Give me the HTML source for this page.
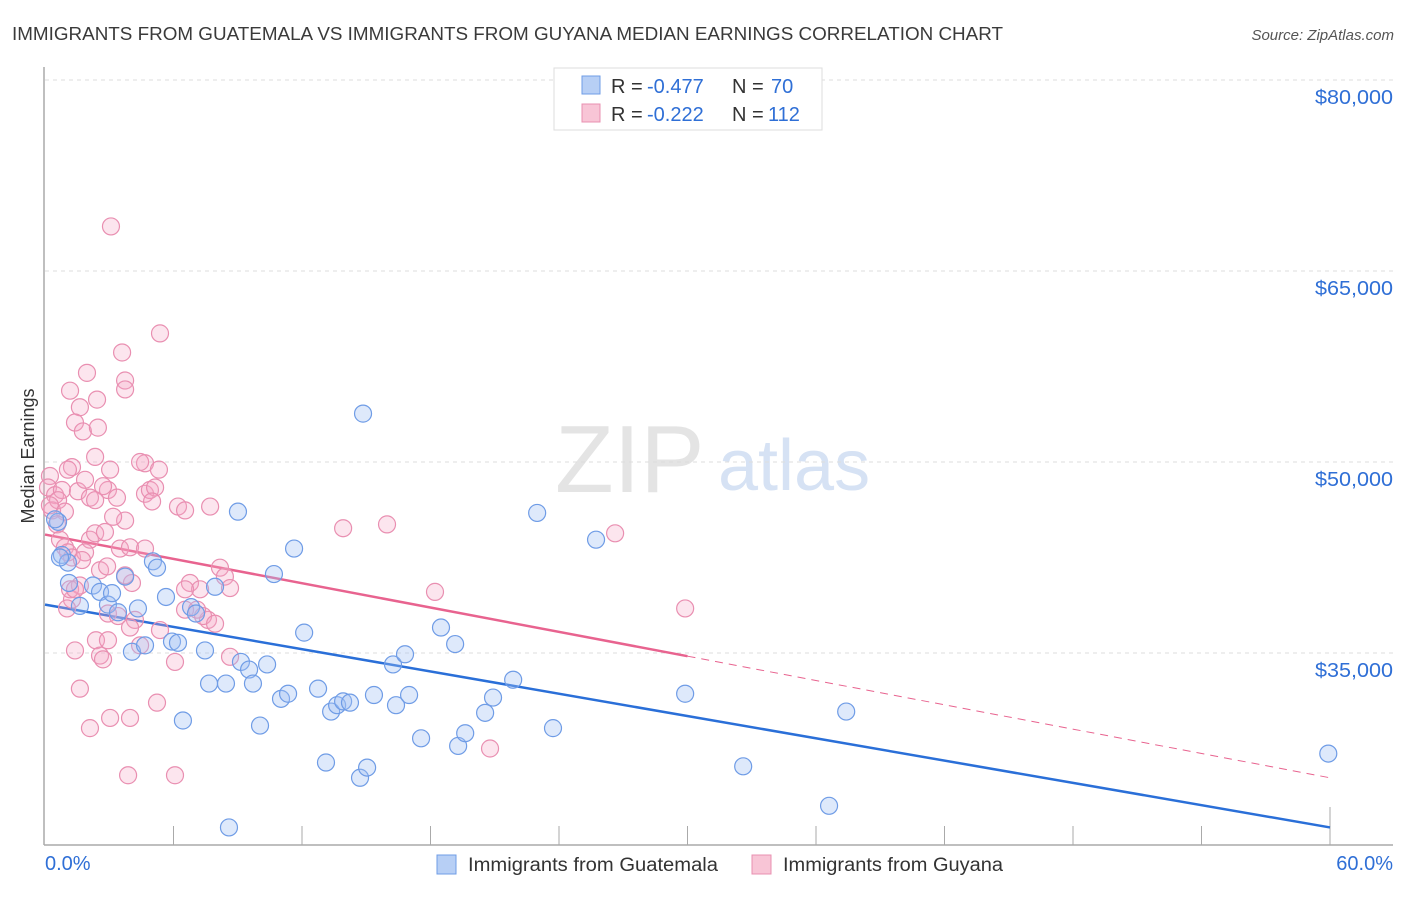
<!DOCTYPE html>
<html><head><meta charset="utf-8"><style>
body{margin:0;background:#fff;font-family:"Liberation Sans",sans-serif}
svg text{font-family:"Liberation Sans",sans-serif}
</style></head><body>
<svg id="c" width="1406" height="892" xmlns="http://www.w3.org/2000/svg">
<text x="12" y="40" font-size="18" textLength="991" lengthAdjust="spacingAndGlyphs" fill="#3a3a3a">IMMIGRANTS FROM GUATEMALA VS IMMIGRANTS FROM GUYANA MEDIAN EARNINGS CORRELATION CHART</text>
<text x="1394" y="40" font-size="15" fill="#555" text-anchor="end" font-style="italic">Source: ZipAtlas.com</text>
<text x="555" y="492" font-size="96" fill="#e4e4e4" font-family="Liberation Serif">ZIP</text>
<text x="718" y="490" font-size="72" fill="#d6e2f4">atlas</text>
<text transform="translate(34,456) rotate(-90)" font-size="18" fill="#333" text-anchor="middle">Median Earnings</text>
<g id="grid"></g><g id="axes"></g><g id="trend"></g><g id="pts"></g>
<g>
<rect x="554" y="68" width="268" height="62" fill="#fff" stroke="#ddd"/>
<rect x="582" y="76" width="18" height="18" fill="#b7cff5" stroke="#6f9ce6"/>
<rect x="582" y="104" width="18" height="18" fill="#f8c5d6" stroke="#e890b0"/>
<text x="611" y="93" font-size="20" fill="#333">R = <tspan x="647" fill="#2f6fd6">-0.477</tspan><tspan x="732">N = </tspan><tspan x="771" fill="#2f6fd6">70</tspan></text>
<text x="611" y="121" font-size="20" fill="#333">R = <tspan x="647" fill="#2f6fd6">-0.222</tspan><tspan x="732">N = </tspan><tspan x="768" fill="#2f6fd6">112</tspan></text>
</g>
<g>
<rect x="437" y="855" width="19" height="19" fill="#b7cff5" stroke="#6f9ce6"/>
<text x="468" y="871" font-size="19" textLength="250" lengthAdjust="spacingAndGlyphs" fill="#333">Immigrants from Guatemala</text>
<rect x="752" y="855" width="19" height="19" fill="#f8c5d6" stroke="#e890b0"/>
<text x="783" y="871" font-size="19" textLength="220" lengthAdjust="spacingAndGlyphs" fill="#333">Immigrants from Guyana</text>
</g>
</svg>
<script>
const yTicks=[35,50,65,80];
const yTickLabels=["$35,000","$50,000","$65,000","$80,000"];
const xTickLabels=["0.0%","60.0%"];
const blueX=[1.12,0.79,0.61,1.07,1.63,2.24,2.57,2.94,3.13,3.41,3.74,4.06,4.34,4.67,5.04,5.23,5.65,5.93,6.21,6.44,6.82,7.05,7.47,7.66,7.94,8.45,8.59,9.01,9.15,9.53,9.71,10.04,10.37,10.69,11.02,11.35,11.63,12.10,12.75,13.12,13.36,13.64,13.92,14.24,14.71,14.85,15.04,15.36,16.25,16.39,16.81,17.00,17.56,18.49,19.15,19.29,19.62,20.55,20.92,21.86,22.98,23.72,25.73,29.89,32.60,36.61,37.41,59.92,0.47,0.70];
const blueY=[40.5,42.7,45.3,42.1,38.7,40.3,39.8,38.8,39.7,38.2,41.0,35.1,38.5,35.6,42.2,41.7,39.4,35.9,35.8,29.7,38.6,38.1,35.2,32.6,40.2,32.6,21.3,46.1,34.3,33.7,32.6,29.3,34.1,41.2,31.4,31.8,43.2,36.6,32.2,26.4,30.4,30.9,31.2,31.1,25.2,53.8,26.0,31.7,34.1,30.9,34.9,31.7,28.3,37.0,35.7,27.7,28.7,30.3,31.5,32.9,46.0,29.1,43.9,31.8,26.1,23.0,30.4,27.1,45.5,42.5];
const pinkX=[3.08,5.37,3.60,3.74,3.74,1.17,1.96,2.43,1.63,1.40,1.77,2.47,4.67,5.32,2.34,1.26,0.23,0.14,0.47,0.79,0.33,0.61,0.93,1.54,1.87,2.10,2.94,3.36,2.71,4.67,4.90,5.14,5.00,6.21,7.71,6.54,3.74,3.18,0.56,0.70,0.93,1.07,1.26,2.10,1.87,1.73,2.34,2.57,3.50,3.97,4.67,4.06,2.90,3.74,1.26,1.63,1.17,1.03,1.40,2.94,3.41,4.20,3.97,4.44,5.37,6.54,6.77,7.24,7.61,8.17,8.40,8.64,7.38,7.94,2.38,2.94,2.57,2.71,1.40,6.07,8.64,1.63,5.23,3.04,3.97,2.10,3.88,6.07,13.92,15.97,18.21,20.78,26.62,29.89,4.44,1.07,3.04,0.23,2.34,2.80,6.54,7.10];
const pinkY=[68.5,60.1,58.6,56.4,55.7,55.6,57.0,54.9,54.3,53.1,52.4,52.7,49.9,49.4,50.4,49.6,48.9,48.0,47.4,47.8,46.2,47.0,46.1,47.7,48.6,47.2,47.8,47.2,48.1,47.5,47.8,48.0,46.9,46.5,46.5,46.2,45.4,45.7,45.1,43.9,43.3,42.9,42.5,43.9,42.9,42.3,44.4,41.5,43.2,43.3,43.2,40.5,41.8,41.1,39.2,40.3,40.0,38.5,40.0,38.1,37.9,37.6,37.0,35.6,36.8,38.4,40.5,40.0,37.6,41.7,41.0,40.1,37.9,37.3,36.0,36.0,34.8,34.5,35.2,34.3,34.7,32.2,31.1,29.9,29.9,29.1,25.4,25.4,44.8,45.1,39.8,27.5,44.4,38.5,50.0,49.4,49.4,46.6,47.0,44.5,40.0,38.4];
const blueTrend=[38.8,21.3];
const pinkTrend=[44.3,25.2];
const pinkSolidEnd=30;
const X=p=>45+p*(1285/60);
const Y=k=>80+(80-k)*(191/15);
const NS="http://www.w3.org/2000/svg";
function mk(tag,attrs,parent){const e=document.createElementNS(NS,tag);for(const k in attrs)e.setAttribute(k,attrs[k]);document.getElementById(parent).appendChild(e);return e;}
yTicks.forEach((t,i)=>{
 const l=mk('line',{x1:45,x2:1393,y1:Y(t),y2:Y(t),stroke:'#ddd','stroke-dasharray':'4,4'},'grid');
 
 
 const tx=mk('text',{x:1393,y:Y(t)+24,'font-size':20,textLength:78,lengthAdjust:'spacingAndGlyphs',fill:'#2f6fd6','text-anchor':'end'},'grid');
 tx.textContent=yTickLabels[i];
 
 
});
const ax=mk('line',{x1:44,x2:44,y1:67,y2:845,stroke:'#aaa','stroke-width':1.5},'axes');


const bx=mk('line',{x1:44,x2:1393,y1:845,y2:845,stroke:'#aaa','stroke-width':1.5},'axes');


for(let i=1;i<=10;i++){
 const t=mk('line',{x1:X(i*6),x2:X(i*6),y1:(i==10?807:826),y2:845,stroke:'#aaa'},'axes');
 
 
}
xTickLabels.forEach((s,i)=>{
 const t=mk('text',{x:i?1393:45,y:870,'font-size':20,fill:'#2f6fd6','text-anchor':i?'end':'start'},'axes');
 t.textContent=s;
 
 
});
const lerp=(a,p)=>a[0]+(a[1]-a[0])*p/60;
const bl=mk('line',{x1:X(0),y1:Y(blueTrend[0]),x2:X(60),y2:Y(blueTrend[1]),stroke:'#2a6fd8','stroke-width':2.5},'trend');


const pl=mk('line',{x1:X(0),y1:Y(pinkTrend[0]),x2:X(pinkSolidEnd),y2:Y(lerp(pinkTrend,pinkSolidEnd)),stroke:'#e8638f','stroke-width':2.5},'trend');


const pd=mk('line',{x1:X(pinkSolidEnd),y1:Y(lerp(pinkTrend,pinkSolidEnd)),x2:X(60),y2:Y(pinkTrend[1]),stroke:'#e8638f','stroke-width':1,'stroke-dasharray':'8,6'},'trend');


pinkX.forEach((x,i)=>{
 const c=mk('circle',{cx:X(x),cy:Y(pinkY[i]),r:8.5,fill:'rgba(244,170,198,0.3)',stroke:'#e98fb1','stroke-width':1.2},'pts');
 
 
});
blueX.forEach((x,i)=>{
 const c=mk('circle',{cx:X(x),cy:Y(blueY[i]),r:8.5,fill:'rgba(160,192,244,0.35)',stroke:'#6f9ce6','stroke-width':1.2},'pts');
 
 
});
</script>
</body></html>
